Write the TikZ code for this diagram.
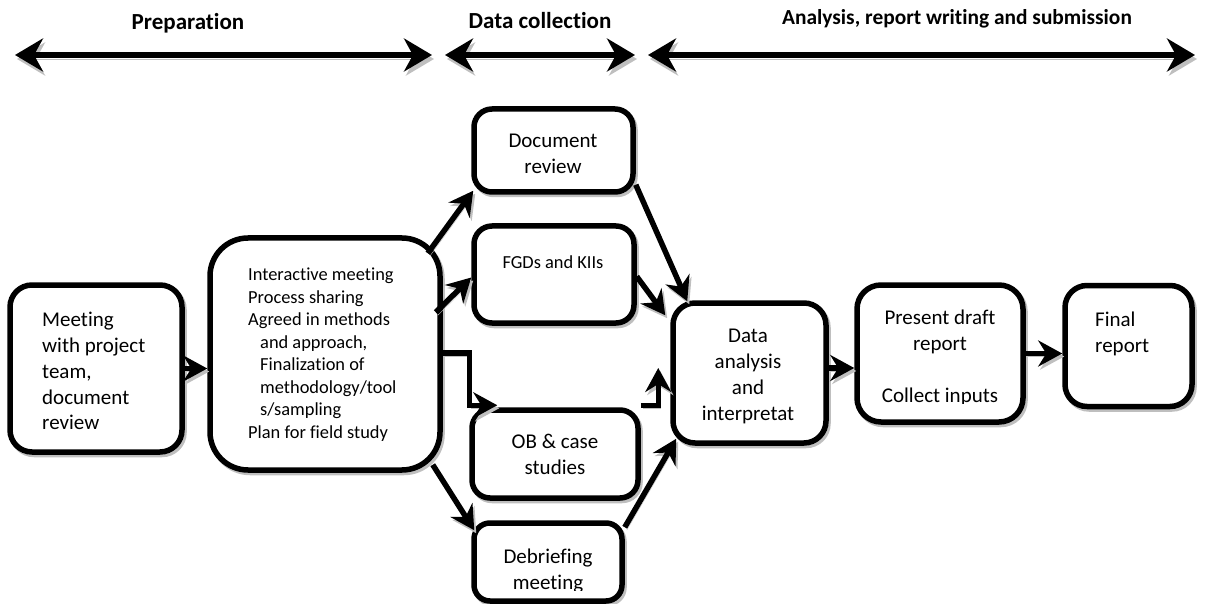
\documentclass[tikz,border=0pt]{standalone}
\usepackage{fontspec}
\setmainfont{Carlito}[Ligatures={NoCommon,NoContextual,NoRare}, Contextuals={NoAlternate}]
\usetikzlibrary{arrows.meta,calc}
\begin{document}
\begin{tikzpicture}[x=1pt,y=-1pt,
  box/.style={draw, line width=5.5pt, inner sep=0pt, fill=white, rounded corners=20pt,
    preaction={draw=black!25, transform canvas={shift={(2pt,-2.5pt)}}}},
  txt/.style={inner sep=0pt, font=\fontsize{21}{25.8}\selectfont},
  stxt/.style={inner sep=0pt, font=\fontsize{18.4}{22.5}\selectfont},
  head/.style={inner sep=0pt, font=\bfseries\fontsize{23}{27}\selectfont},
  conn/.style={line width=5.5pt, -{Stealth[length=24pt,width=26pt,inset=8pt]},
    preaction={draw=black!25, transform canvas={shift={(2pt,-3pt)}}}},
  phase/.style={line width=5.5pt, {Stealth[length=28pt,width=33pt,inset=9pt]}-{Stealth[length=28pt,width=33pt,inset=9pt]},
    preaction={draw=black!25, transform canvas={shift={(2pt,-4pt)}}}}
]
\useasboundingbox (0,0) rectangle (1205,604);

% phase headings and arrows
\node[head] (h1) at (188,23) {Preparation};
\node[head] (h2) at (540,21) {Data collection};
\node[head, font=\bfseries\fontsize{21.4}{25}\selectfont] (h3) at (957,19) {Analysis, report writing and submission};
\coordinate (p1l) at (15,55);  \coordinate (p1r) at (432,55);
\coordinate (p2l) at (445,55); \coordinate (p2r) at (635,55);
\coordinate (p3l) at (648,55); \coordinate (p3r) at (1195,55);
\draw[phase] (p1l) -- (p1r);
\draw[phase] (p2l) -- (p2r);
\draw[phase] (p3l) -- (p3r);

% boxes
\node[box, minimum width=172pt, minimum height=167pt, rounded corners=22pt] (a) at (96,368.5) {};
\node[box, minimum width=230pt, minimum height=232pt, rounded corners=38pt] (b) at (325,354) {};
\node[box, minimum width=159pt, minimum height=83pt, rounded corners=18pt] (doc) at (553.5,150.5) {};
\node[box, minimum width=160pt, minimum height=97pt, rounded corners=18pt] (fgd) at (554,274.5) {};
\node[box, minimum width=166pt, minimum height=88pt, rounded corners=18pt] (ob) at (555,454) {};
\node[box, minimum width=148pt, minimum height=78pt, rounded corners=16pt] (deb) at (548,562) {};
\node[box, minimum width=153pt, minimum height=140pt, rounded corners=22pt] (da) at (749.5,373) {};
\node[box, minimum width=166pt, minimum height=137pt, rounded corners=24pt] (pd) at (940,353.5) {};
\node[box, minimum width=127pt, minimum height=121pt, rounded corners=22pt] (fr) at (1128.5,346) {};

% texts
\node[txt, anchor=north west, align=left] (at) at (42,312) {Meeting\\with project\\team,\\document\\review};
\node[stxt, anchor=north west, align=left] (bt) at (248,268) {Interactive meeting\\Process sharing\\Agreed in methods\\\hspace*{12pt}and approach,\\\hspace*{12pt}Finalization of\\\hspace*{12pt}methodology/tool\\\hspace*{12pt}s/sampling\\Plan for field study};
\node[txt, anchor=north, align=center] (doct) at (553,134) {Document\\review};
\node[stxt, anchor=north] (fgdt) at (553,256) {FGDs and KIIs};
\node[txt, anchor=north, align=center] (obt) at (555,434) {OB \& case\\studies};
\begin{scope}
  \clip (470,520) rectangle (630,590);
  \node[txt, anchor=north, align=center] (debt) at (548,549) {Debriefing\\meeting};
\end{scope}
\node[txt, anchor=north, align=center] (dat) at (748,329) {Data\\analysis\\and\\interpretat};
\begin{scope}
  \clip (860,280) rectangle (1020,403);
  \node[txt, anchor=north, align=center] (pdt) at (940,310) {Present draft\\report\\[25.8pt]Collect inputs};
\end{scope}
\node[txt, anchor=north west, align=left] (frt) at (1095,312) {Final\\report};

% connectors
\draw[conn] (a.east) -- (a.east -| b.west);
\draw[conn] ($(b.north east)+(-15,18)$) -- ($(doc.south west)+(2,-4)$);
\draw[conn] ($(b.north east)+(-7,77)$) -- ($(fgd.west)+(0,3)$);
\draw[conn] ($(b.east)+(0,-1)$) -| ($(ob.north west)+(0,-2)$) -- ($(ob.north west)+(28,-2)$);
\draw[conn] ($(ob.north east)+(0,-2)$) -| ($(da.west)+(-12,-5)$);
\draw[conn] ($(b.south east)+(-10,-8)$) -- ($(deb.north west)+(3,10)$);
\draw[conn] ($(deb.north east)+(0,7)$) -- ($(da.south west)+(6,-7)$);
\draw[conn] ($(doc.south east)+(0,-10)$) -- ($(da.north west)+(17,1)$);
\draw[conn] ($(fgd.east)+(0,2)$) -- ($(da.north west)+(-5,15)$);
\draw[conn] ([yshift=5pt]da.east) -- ([yshift=5pt]da.east -| pd.west);
\draw[conn] (pd.east) -- (pd.east -| fr.west);
\end{tikzpicture}
\end{document}
